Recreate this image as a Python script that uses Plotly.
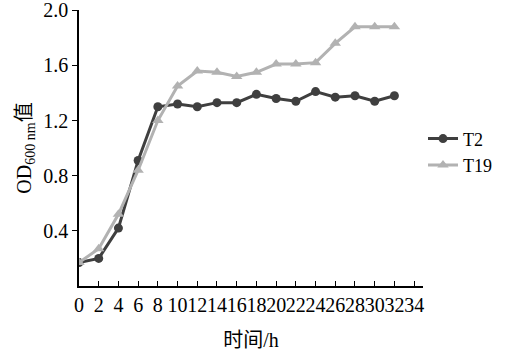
import plotly.graph_objects as go

hours = [0, 2, 4, 6, 8, 10, 12, 14, 16, 18, 20, 22, 24, 26, 28, 30, 32]
t2 = [0.17, 0.20, 0.42, 0.91, 1.30, 1.32, 1.30, 1.33, 1.33, 1.39, 1.36, 1.34, 1.41, 1.37, 1.38, 1.34, 1.38]
t19 = [0.17, 0.27, 0.52, 0.84, 1.20, 1.45, 1.56, 1.55, 1.52, 1.55, 1.61, 1.61, 1.62, 1.76, 1.88, 1.88, 1.88]
x_ticks = list(range(0, 35, 2))
y_ticks = [0.4, 0.8, 1.2, 1.6, 2.0]
y_tick_text = ["0.4", "0.8", "1.2", "1.6", "2.0"]

font_fam = "Liberation Serif, Times New Roman, Noto Sans CJK SC, serif"

fig = go.Figure()
fig.add_trace(go.Scatter(
    x=hours, y=t2, name="T2", mode="lines+markers",
    line=dict(color="#3f3f3f", width=3),
    marker=dict(symbol="circle", size=9, color="#3f3f3f"),
))
fig.add_trace(go.Scatter(
    x=hours, y=t19, name="T19", mode="lines+markers",
    line=dict(color="#b2b2b2", width=3),
    marker=dict(symbol="triangle-up", size=10, color="#b2b2b2"),
))

fig.update_layout(
    width=507, height=356,
    margin=dict(l=79, r=74, t=10, b=70),
    paper_bgcolor="white", plot_bgcolor="white",
    font=dict(family=font_fam, size=20, color="black"),
    showlegend=True,
    legend=dict(x=1.0, xanchor="left", y=0.6, yanchor="top",
                font=dict(size=18, family=font_fam), bgcolor="rgba(0,0,0,0)",
                tracegroupgap=0, itemwidth=30),
    xaxis=dict(
        range=[0, 34.9], tickmode="array", tickvals=x_ticks,
        ticktext=[str(v) for v in x_ticks], tickangle=0, automargin=False,
        ticks="inside", ticklen=5, tickcolor="black", tickwidth=1,
        showline=True, linecolor="black", linewidth=1.5,
        showgrid=False, zeroline=False,
        tickfont=dict(size=20, family=font_fam),
        title=dict(text="时间/h", font=dict(size=20, family=font_fam), standoff=18),
    ),
    yaxis=dict(
        range=[0, 2.002], tickmode="array", tickvals=y_ticks, ticktext=y_tick_text,
        automargin=False,
        ticks="outside", ticklen=5, tickcolor="black", tickwidth=1,
        showline=True, linecolor="black", linewidth=1.5,
        showgrid=False, zeroline=False, ticklabeloverflow="allow",
        tickfont=dict(size=20, family=font_fam),
        title=dict(text="OD<sub>600 nm</sub>值", font=dict(size=20, family=font_fam), standoff=6),
    ),
)

fig.write_html("out.html")
